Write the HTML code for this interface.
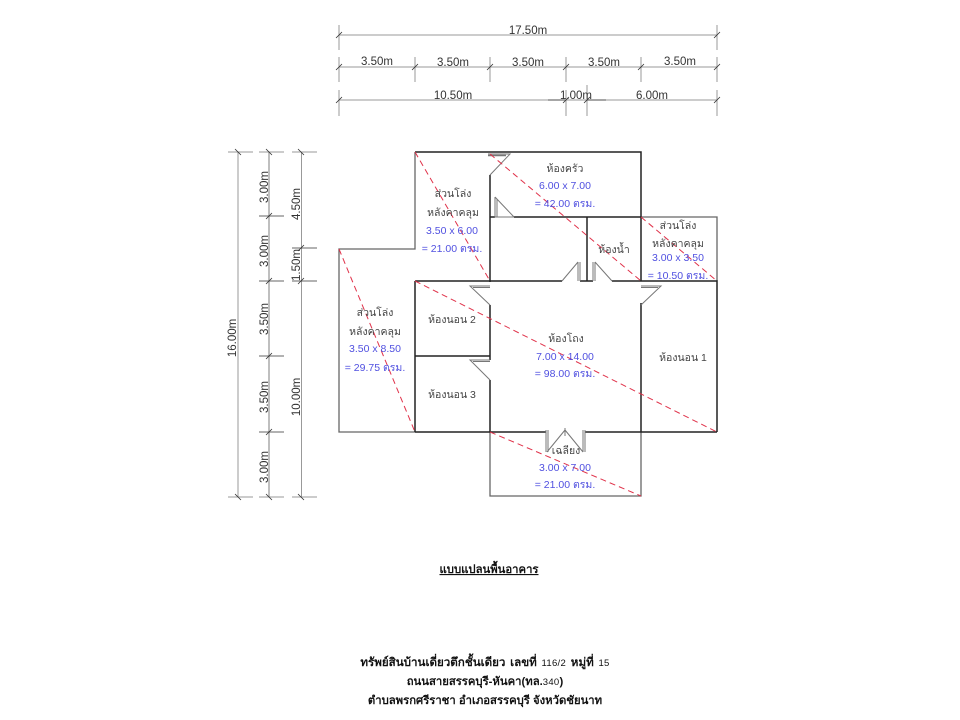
<!DOCTYPE html>
<html><head><meta charset="utf-8"><style>
html,body{margin:0;padding:0;background:#fff;width:960px;height:720px;overflow:hidden}
svg{display:block}
text{font-family:"Liberation Sans","DejaVu Sans","Noto Sans CJK SC",sans-serif}
.l{font-size:10.5px;fill:#444;text-anchor:middle}
.b{font-size:10.5px;fill:#5050e0;text-anchor:middle;font-family:"Liberation Sans",sans-serif}
.d{font-size:11.5px;fill:#333;text-anchor:middle}
.t{font-size:11.3px;font-weight:bold;fill:#111;text-anchor:middle}
.n{font-size:9.5px;font-weight:normal;letter-spacing:.3px}
</style></head><body>
<svg width="960" height="720" viewBox="0 0 960 720" xmlns="http://www.w3.org/2000/svg">
<g stroke="#999" stroke-width="1" fill="none">
<path d="M339 35H717M339 67H717M339 100H717"/>
<path d="M339 25V50M717 25V50M339 57V82M415 57V82M490 57V82M566 57V82M641 57V82M717 57V82M339 90V116M566 90V116M587 85V116M717 90V116"/>
<path d="M238 152V497M301.500 152V497"/>
<path d="M269 152V497" stroke-width="1.500" stroke="#aaa"/>
<path d="M228 152H253M259 152H284M292 152H317M228 497H253M259 497H284M292 497H317"/>
</g>
<g stroke="#333" stroke-width="0.8" fill="none">
<path d="M336 38L342 32M336 70L342 64M412 70L418 64M487 70L493 64M563 70L569 64M638 70L644 64M714 70L720 64M714 38L720 32M336 103L342 97M563 103L569 97M584 103L590 97M714 103L720 97"/>
<path d="M235 149L241 155M266 149L272 155M298 149L304 155M266 219L272 213M298 251L304 245M266 284L272 278M298 284L304 278M266 359L272 353M266 435L272 429M235 494L241 500M266 494L272 500M298 494L304 500"/>
<path d="M548 100H565M587 100H606M259 216H284M292 248H317M259 281H284M292 281H317M259 356H284M259 432H284"/>
</g>
<!-- outer gray walls -->
<g stroke="#666" stroke-width="1.300" fill="none">
<path d="M415 152V249H339V432H415"/>
<path d="M641 217H717V281"/>
<path d="M490 432V496H641V432"/>
</g>
<!-- dark walls -->
<g stroke="#222" stroke-width="1.500" fill="none">
<path d="M415 152H641V281"/>
<path d="M490 175V282"/>
<path d="M490 217H495M514 217H641"/>
<path d="M587 217V281"/>
<path d="M415 281H562M580 281H593M612 281H717V432"/>
<path d="M415 281V432"/>
<path d="M415 356H490"/>
<path d="M490 305V360M490 380V432"/>
<path d="M415 432H546M585 432H717"/>
<path d="M641 303V432"/>
</g>
<!-- doors -->
<g stroke="#777" stroke-width="1" fill="none">
<path d="M488 154H510L490 175"/>
<path d="M488 155.500H506" stroke-width="1.500"/>
<path d="M495 197V217L514 217M495 197L514 217"/>
<path d="M497 199V217"/>
<path d="M580 262V281M578 262V281M578 262L562 281"/>
<path d="M593 262V281M595 262V281M595 262L612 281"/>
<path d="M641 286H661L641 305M641 287.500H658"/>
<path d="M490 286H470L490 305M490 287.500H473"/>
<path d="M490 360H470L490 380M490 361.500H473"/>
<path d="M546 430V452M548 430V452M585 430V452M583 430V452M565 430L547 452M565 430L583 452M565 428V436"/>
</g>
<!-- red diagonals -->
<g stroke="#e0324a" stroke-width="1" stroke-dasharray="6 4" fill="none">
<path d="M415 152L490 281"/>
<path d="M339 249L415 432"/>
<path d="M490 154L641 281"/>
<path d="M641 217L717 281"/>
<path d="M415 281L717 432"/>
<path d="M490 432L641 496"/>
</g>
<!-- top dims -->
<text class="d" x="528" y="34">17.50m</text>
<text class="d" x="377" y="65">3.50m</text>
<text class="d" x="453" y="66">3.50m</text>
<text class="d" x="528" y="66">3.50m</text>
<text class="d" x="604" y="66">3.50m</text>
<text class="d" x="680" y="65">3.50m</text>
<text class="d" x="453" y="99">10.50m</text>
<text class="d" x="576" y="99">1.00m</text>
<text class="d" x="652" y="99">6.00m</text>
<!-- left dims -->
<text class="d" transform="translate(268,187) rotate(-90)">3.00m</text>
<text class="d" transform="translate(268,251) rotate(-90)">3.00m</text>
<text class="d" transform="translate(268,319) rotate(-90)">3.50m</text>
<text class="d" transform="translate(268,397) rotate(-90)">3.50m</text>
<text class="d" transform="translate(268,467) rotate(-90)">3.00m</text>
<text class="d" transform="translate(300,204) rotate(-90)">4.50m</text>
<text class="d" transform="translate(300,265) rotate(-90)">1.50m</text>
<text class="d" transform="translate(300,397) rotate(-90)">10.00m</text>
<text class="d" transform="translate(236,338) rotate(-90)">16.00m</text>
<!-- rooms -->
<text class="l" x="565" y="172">ห้องครัว</text>
<text class="b" x="565" y="189">6.00 x 7.00</text>
<text class="b" x="565" y="207">= 42.00 ตรม.</text>
<text class="l" x="453" y="197">ส่วนโล่ง</text>
<text class="l" x="453" y="216">หลังคาคลุม</text>
<text class="b" x="452" y="234">3.50 x 6.00</text>
<text class="b" x="452" y="252">= 21.00 ตรม.</text>
<text class="l" x="614" y="253">ห้องน้ำ</text>
<text class="l" x="678" y="229">ส่วนโล่ง</text>
<text class="l" x="678" y="247">หลังคาคลุม</text>
<text class="b" x="678" y="261">3.00 x 3.50</text>
<text class="b" x="678" y="279">= 10.50 ตรม.</text>
<text class="l" x="375" y="316">ส่วนโล่ง</text>
<text class="l" x="375" y="335">หลังคาคลุม</text>
<text class="b" x="375" y="352">3.50 x 8.50</text>
<text class="b" x="375" y="371">= 29.75 ตรม.</text>
<text class="l" x="452" y="323">ห้องนอน 2</text>
<text class="l" x="452" y="398">ห้องนอน 3</text>
<text class="l" x="566" y="342">ห้องโถง</text>
<text class="b" x="565" y="360">7.00 x 14.00</text>
<text class="b" x="565" y="377">= 98.00 ตรม.</text>
<text class="l" x="683" y="361">ห้องนอน 1</text>
<text class="l" x="566" y="454">เฉลียง</text>
<text class="b" x="565" y="471">3.00 x 7.00</text>
<text class="b" x="565" y="488">= 21.00 ตรม.</text>
<!-- titles -->
<text class="t" x="489" y="573" text-decoration="underline">แบบแปลนพื้นอาคาร</text>
<text class="t" x="485" y="666" style="font-size:11.6px;word-spacing:1.500px">ทรัพย์สินบ้านเดี่ยวตึกชั้นเดียว เลขที่ <tspan class="n">116/2</tspan> หมู่ที่ <tspan class="n">15</tspan></text>
<text class="t" x="485" y="685">ถนนสายสรรคบุรี-หันคา(ทล.<tspan class="n">340</tspan>)</text>
<text class="t" x="485" y="704">ตำบลพรกศรีราชา อำเภอสรรคบุรี จังหวัดชัยนาท</text>
</svg>
</body></html>
